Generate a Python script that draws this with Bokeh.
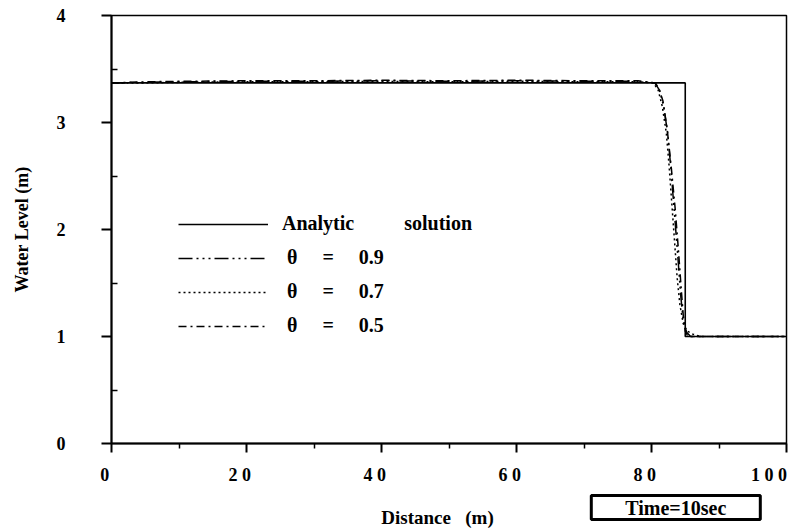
from bokeh.plotting import figure
from bokeh.models import Range1d, Legend, LegendItem, Label, FixedTicker
from bokeh.layouts import column
from bokeh.embed import file_html
from bokeh.resources import INLINE

NB = "\u00a0"

# ---- data ----
x_analytic = [0, 85, 85, 100]
y_analytic = [3.37, 3.37, 1.0, 1.0]

x_t09 = [0, 5, 10, 20, 30, 40, 50, 60, 70, 78, 80.5, 81.2, 81.8, 82.4, 82.9, 83.4, 83.9, 84.3, 84.7, 85.2, 85.8, 90, 100]
y_t09 = [3.37, 3.375, 3.38, 3.385, 3.385, 3.39, 3.385, 3.39, 3.385, 3.385, 3.37, 3.30, 3.15, 2.90, 2.55, 2.15, 1.75, 1.40, 1.15, 1.04, 1.0, 1.0, 1.0]

x_t07 = [0, 5, 10, 20, 30, 40, 50, 60, 70, 78, 80.3, 81.0, 81.6, 82.2, 82.6, 83.0, 83.4, 83.8, 84.2, 84.7, 85.3, 86.2, 87.3, 90, 100]
y_t07 = [3.37, 3.37, 3.375, 3.38, 3.38, 3.385, 3.38, 3.385, 3.38, 3.38, 3.37, 3.30, 3.15, 2.90, 2.60, 2.25, 1.90, 1.55, 1.30, 1.12, 1.05, 1.02, 1.0, 1.0, 1.0]

x_t05 = [0, 5, 10, 20, 30, 40, 50, 60, 70, 78, 80.6, 81.2, 81.7, 82.3, 82.9, 83.5, 84.0, 84.4, 84.7, 85.0, 85.4, 90, 100]
y_t05 = [3.37, 3.38, 3.385, 3.39, 3.39, 3.395, 3.39, 3.395, 3.39, 3.39, 3.37, 3.30, 3.20, 2.95, 2.60, 2.20, 1.80, 1.45, 1.20, 1.05, 1.0, 1.0, 1.0]

x_ticks = [0, 20, 40, 60, 80, 100]
x_tick_labels = ["0", "2 0", "4 0", "6 0", "8 0", "1 0 0"]
y_ticks = [0, 1, 2, 3, 4]

legend_labels = [
    "Analytic" + NB * 10 + "solution",
    NB + "\u03b8" + NB * 5 + "=" + NB * 5 + "0.9",
    NB + "\u03b8" + NB * 5 + "=" + NB * 5 + "0.7",
    NB + "\u03b8" + NB * 5 + "=" + NB * 5 + "0.5",
]
x_title = "Distance" + NB * 3 + "(m)"
y_title = "Water Level (m)"
time_text = "Time=10sec"
x_title_pos = 48.3    # x (m) under which the x title is centred
time_box_pos = 83.6   # x (m) under which the time box is centred

FONT = "Liberation Serif"

p = figure(frame_width=675, frame_height=428, output_backend="svg", toolbar_location=None,
           x_range=Range1d(0, 100), y_range=Range1d(0, 4),
           min_border_left=111, min_border_right=14, min_border_top=15, min_border_bottom=47)
p.grid.visible = False
p.outline_line_color = "black"
p.outline_line_width = 1.5
p.background_fill_color = "white"
p.border_fill_color = "white"

r_an = p.line(x_analytic, y_analytic, line_color="black", line_width=1.6)
r_09 = p.line(x_t09, y_t09, line_color="black", line_width=1.5, line_dash="14 4 2 4 2 4 2 4")
r_07 = p.line(x_t07, y_t07, line_color="black", line_width=1.5, line_dash="2 3")
r_05 = p.line(x_t05, y_t05, line_color="black", line_width=1.5, line_dash="8 4 2 4")

# axes
xa = p.xaxis[0]
xa.ticker = FixedTicker(ticks=x_ticks, minor_ticks=[10, 30, 50, 70, 90])
xa.major_label_overrides = {t: l + NB * 3 for t, l in zip(x_ticks, x_tick_labels)}
ya = p.yaxis[0]
ya.ticker = FixedTicker(ticks=y_ticks, minor_ticks=[0.5, 1.5, 2.5, 3.5])
ya.axis_label = y_title

for ax in (xa, ya):
    ax.axis_line_color = "black"
    ax.axis_line_width = 2
    ax.major_tick_line_color = "black"
    ax.minor_tick_line_color = "black"
    ax.major_tick_line_width = 2
    ax.minor_tick_line_width = 1.5
    ax.major_label_text_font = FONT
    ax.major_label_text_font_style = "bold"
    ax.major_label_text_font_size = "18px"
    ax.major_label_text_color = "black"
    ax.axis_label_text_font = FONT
    ax.axis_label_text_font_style = "bold"
    ax.axis_label_text_font_size = "18px"
    ax.axis_label_text_color = "black"

xa.major_tick_in = 0
xa.major_tick_out = 9
xa.minor_tick_in = 0
xa.minor_tick_out = 5
xa.major_label_standoff = 12

ya.major_tick_in = 0
ya.major_tick_out = 10
ya.minor_tick_in = 6
ya.minor_tick_out = 0
ya.major_label_standoff = 36
ya.major_label_text_align = "right"
ya.major_label_text_baseline = "middle"
ya.axis_label_standoff = 22

legend = Legend(items=[
    LegendItem(label=legend_labels[0], renderers=[r_an]),
    LegendItem(label=legend_labels[1], renderers=[r_09]),
    LegendItem(label=legend_labels[2], renderers=[r_07]),
    LegendItem(label=legend_labels[3], renderers=[r_05]),
], location=(67, 106), glyph_width=90, glyph_height=20, label_height=20,
    label_standoff=14, spacing=11, padding=0, margin=0,
    background_fill_alpha=0, border_line_alpha=0,
    label_text_font=FONT, label_text_font_style="bold", label_text_font_size="20px",
    label_text_color="black")
p.add_layout(legend, "center")

# strip below the chart holding the x title and the time box (shares the x range)
p2 = figure(frame_width=675, frame_height=39, output_backend="svg", toolbar_location=None,
            x_range=p.x_range, y_range=Range1d(0, 1),
            x_axis_type=None, y_axis_type=None,
            min_border_left=111, min_border_right=14, min_border_top=0, min_border_bottom=0)
p2.outline_line_color = None
p2.background_fill_color = "white"
p2.border_fill_color = "white"

p2.add_layout(Label(x=x_title_pos, y=12, x_units="data", y_units="screen", text=x_title,
                    text_align="center", text_baseline="middle",
                    text_font=FONT, text_font_style="bold", text_font_size="19px",
                    text_color="black"))
p2.add_layout(Label(x=time_box_pos, y=22, x_units="data", y_units="screen", text=time_text,
                    text_align="center", text_baseline="middle",
                    text_font=FONT, text_font_style="bold", text_font_size="20px",
                    text_color="black",
                    border_line_color="black", border_line_width=3,
                    background_fill_color="white", padding=(34, 1)))

layout = column(p, p2, spacing=0)
open("out.html", "w").write(file_html(layout, INLINE))
